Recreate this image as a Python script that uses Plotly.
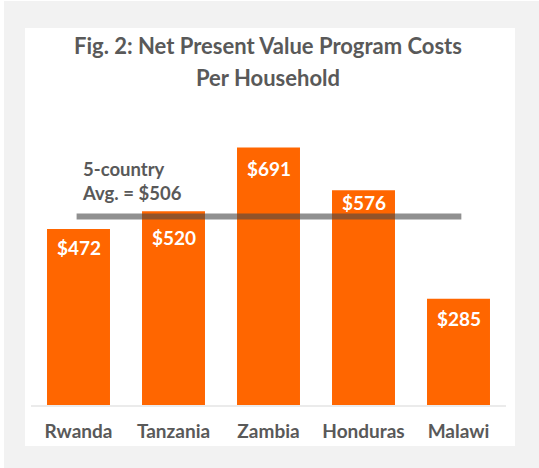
import plotly.graph_objects as go

countries = ["Rwanda", "Tanzania", "Zambia", "Honduras", "Malawi"]
costs = [472, 520, 691, 576, 285]
avg_cost = 506
title_lines = ["Fig. 2: Net Present Value Program Costs", "Per Household"]
avg_label = "5-country<br>Avg. = $506"

ORANGE = "#FF6600"
GRAY_TXT = "#595959"
FONT = "Lato"

# plot area in pixels: x 31..506, y 130..405
W, H = 539, 468
L, R, T, B = 31, 33, 130, 63
pw, ph = W - L - R, H - T - B

def px_x(px):
    return (px - L) / pw

def px_y(py):
    return (H - B - py) / ph

# per-label vertical nudge (pixels) of the value labels inside the bars
label_nudge = [-5, -13, -7, 1, -6]

fig = go.Figure()
fig.add_trace(go.Bar(
    x=list(range(len(countries))),
    y=costs,
    marker=dict(color=ORANGE, line=dict(width=0)),
    hoverinfo="skip",
))

shapes = [
    dict(type="rect", xref="paper", yref="paper", layer="below",
         x0=px_x(4), x1=px_x(545), y0=px_y(475), y1=px_y(1),
         fillcolor="#f2f2f2", line=dict(width=0)),
    dict(type="rect", xref="paper", yref="paper", layer="below",
         x0=px_x(25), x1=px_x(515), y0=px_y(446), y1=px_y(28),
         fillcolor="white", line=dict(width=0)),
    dict(type="line", xref="x", yref="y", layer="above",
         x0=-0.02, x1=4.03, y0=avg_cost, y1=avg_cost,
         line=dict(color="rgba(70,70,70,0.6)", width=6)),
]

annotations = [
    dict(text=title_lines[0], xref="paper", yref="paper",
         x=px_x(268), y=px_y(45), xanchor="center", yanchor="middle",
         showarrow=False, font=dict(family=FONT, size=22, color=GRAY_TXT, weight="bold")),
    dict(text=title_lines[1], xref="paper", yref="paper",
         x=px_x(268), y=px_y(77), xanchor="center", yanchor="middle",
         showarrow=False, font=dict(family=FONT, size=22, color=GRAY_TXT, weight="bold")),
    dict(text=avg_label, xref="paper", yref="paper",
         x=px_x(80), y=px_y(181), xanchor="left", yanchor="middle", align="left",
         showarrow=False, font=dict(family=FONT, size=18.5, color=GRAY_TXT, weight="bold")),
]
for i, (v, dy) in enumerate(zip(costs, label_nudge)):
    annotations.append(dict(
        text=f"${v}", xref="x", yref="y", x=i, y=v,
        xanchor="center", yanchor="top", yshift=dy, showarrow=False,
        font=dict(family=FONT, size=19, color="white", weight="bold"),
    ))

fig.update_layout(
    width=W, height=H,
    margin=dict(l=L, r=R, t=T, b=B, pad=0),
    paper_bgcolor="white",
    plot_bgcolor="rgba(0,0,0,0)",
    showlegend=False,
    bargap=0.337,
    shapes=shapes,
    annotations=annotations,
    xaxis=dict(
        range=[-0.5, 4.5],
        tickmode="array",
        tickvals=list(range(len(countries))),
        ticktext=countries,
        tickfont=dict(family=FONT, size=19, color=GRAY_TXT, weight="bold"),
        showline=True, linecolor="#ebebeb", linewidth=2,
        ticks="outside", ticklen=8, tickcolor="rgba(0,0,0,0)",
        showgrid=False, zeroline=False, fixedrange=True,
    ),
    yaxis=dict(
        range=[0, 738], visible=False, showgrid=False, zeroline=False, fixedrange=True,
    ),
)

fig.write_html(
    "out.html",
    config={"displayModeBar": False},
    post_script="document.body.style.margin='0';document.body.style.padding='0';",
)
